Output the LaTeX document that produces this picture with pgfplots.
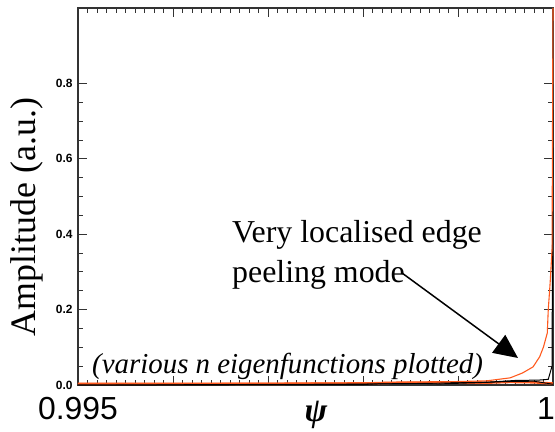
\documentclass[border=0pt]{standalone}
\usepackage{pgfplots}
\pgfplotsset{compat=1.18}
\usepackage{fontspec}
\setmainfont{Liberation Serif}
\newfontfamily\arialfont{Liberation Sans}
\usetikzlibrary{arrows.meta}
\definecolor{modeorange}{RGB}{255,90,30}

% edge peeling eigenfunction (dominant mode)
\pgfplotstableread{
psi amp
0.9950 0.004
0.9960 0.004
0.9970 0.005
0.9980 0.006
0.9988 0.008
0.9993 0.011
0.99955 0.019
0.99968 0.032
0.99979 0.048
0.99986 0.075
0.99990 0.101
0.99994 0.138
0.99995 0.199
0.99997 0.271
0.99999 0.359
1.00000 1.000
}\peeling

% other orange eigenfunctions near the axis
\pgfplotstableread{
psi amp
0.9950 0.003
0.9970 0.003
0.9980 0.004
0.9983 0.006
0.9988 0.007
0.9993 0.006
0.99955 0.008
0.9998 0.007
1.00000 0.004
}\orangelow

% black eigenfunctions
\pgfplotstableread{
psi amp
0.9950 0.000
0.9975 0.002
0.9985 0.004
0.99935 0.008
0.9996 0.012
0.99985 0.013
0.99995 0.015
0.99999 0.050
1.00000 0.730
}\blackA

\pgfplotstableread{
psi amp
0.9950 0.000
0.9980 0.001
0.9982 0.004
0.9985 0.005
0.9988 0.003
0.9992 0.006
0.9995 0.009
0.9998 0.010
1.00000 0.002
}\blackB

\begin{document}
\begin{tikzpicture}
\useasboundingbox (-78bp,-47bp) rectangle (477bp,385bp);
\begin{axis}[
  at={(0,0)}, anchor=south west,
  scale only axis,
  width=475bp, height=377bp,
  xmin=0.995, xmax=1.0,
  ymin=0, ymax=1.0,
  scaled x ticks=false, scaled y ticks=false,
  xtick={0.995,0.996,0.997,0.998,0.999,1.0},
  xticklabels={0.995,,,,,{\makebox[0pt][c]{\hspace*{-14bp}1}}},
  minor x tick num=9,
  ytick={0,0.2,0.4,0.6,0.8},
  yticklabels={0.0,0.2,0.4,0.6,0.8},
  minor y tick num=3,
  tick align=inside,
  major tick length=9bp,
  minor tick length=5bp,
  xtick pos=both, ytick pos=both,
  every tick/.style={black!80, line width=0.8bp},
  axis line style={black!80, line width=1.3bp},
  xticklabel style={font=\arialfont\fontsize{32}{32}\selectfont, yshift=-9bp},
  yticklabel style={font=\arialfont\bfseries\fontsize{12}{12}\selectfont, xshift=-2bp},
  clip=false,
]
\addplot[modeorange, line width=2.4bp] table[x=psi, y=amp] {\orangelow};
\addplot[black, line width=0.9bp] table[x=psi, y=amp] {\blackB};
\addplot[black, line width=1.0bp] table[x=psi, y=amp] {\blackA};
\addplot[modeorange, line width=1.1bp] table[x=psi, y=amp] {\peeling};
\end{axis}

% axis labels
\node[rotate=90, anchor=base, font=\fontsize{36}{36}\selectfont] at (-42bp,168bp) {Amplitude (a.u.)};
\node[anchor=base, font=\bfseries\itshape\fontsize{34}{34}\selectfont, inner sep=0pt] at (238bp,-36bp) {ψ};

% annotations
\node[anchor=base west, font=\fontsize{32}{32}\selectfont, inner sep=0pt] at (154bp,142bp) {Very localised edge};
\node[anchor=base west, font=\fontsize{32}{32}\selectfont, inner sep=0pt] at (154bp,102bp) {peeling mode};
\node[anchor=base west, font=\itshape\fontsize{29}{29}\selectfont, inner sep=0pt] at (14bp,12bp) {(various n eigenfunctions plotted)};
\draw[line width=1.5bp, -{Triangle[length=24bp,width=22bp]}] (324bp,112bp) -- (440bp,27bp);
\end{tikzpicture}
\end{document}
